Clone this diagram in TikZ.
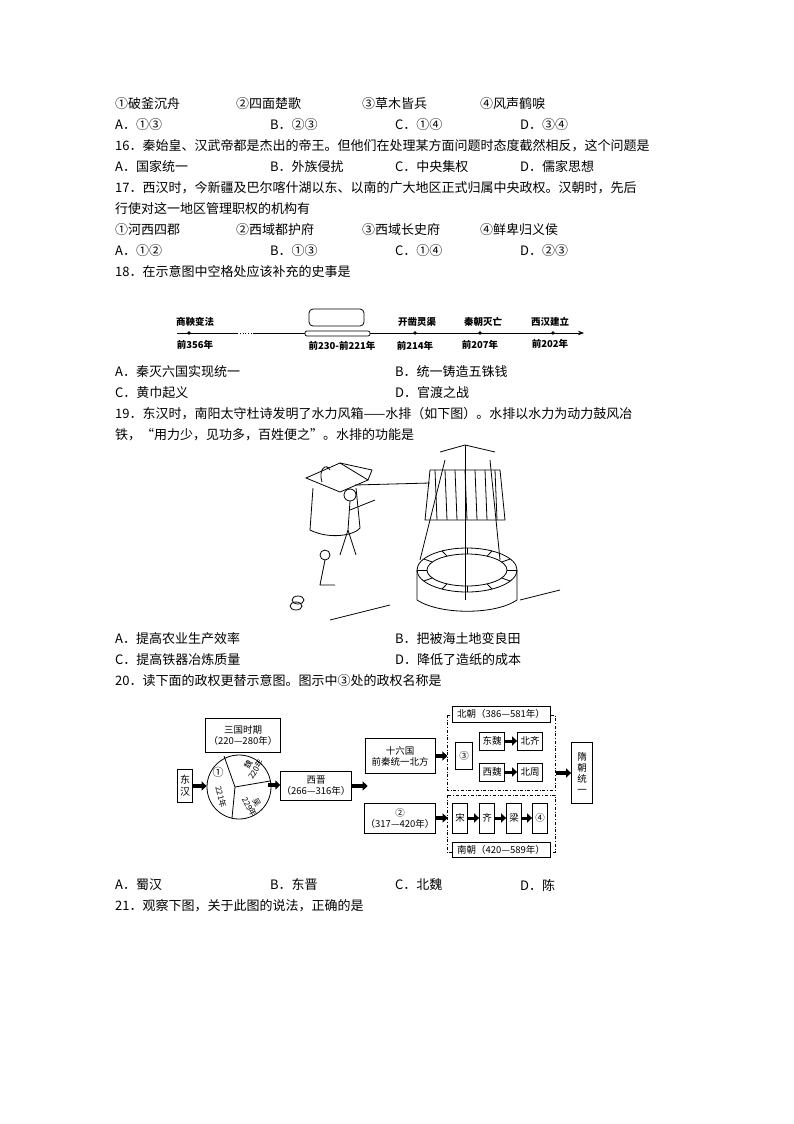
\documentclass[tikz,border=0pt]{standalone}
\usepackage{fontspec}
\setmainfont{Noto Sans CJK SC}
\usetikzlibrary{arrows.meta}
\begin{document}
\begin{tikzpicture}[x=1pt,y=-1pt,
  t/.style={anchor=west,inner sep=0pt,font=\fontsize{13}{13}\selectfont},
  s/.style={inner sep=0pt,font=\fontsize{9.5}{10}\selectfont\bfseries},
  bx/.style={draw,line width=0.8pt,inner sep=1pt,font=\fontsize{9.5}{11}\selectfont,align=center},
  cl/.style={inner sep=0pt,font=\fontsize{8}{8.5}\selectfont,align=center},
  fa/.style={-{Triangle[length=5pt,width=9pt]},line width=4pt},
  dd/.style={dash dot,line width=0.6pt}]
\useasboundingbox (0,0) rectangle (794,1124);
% Q15 options
\node[t] (a1) at (115,104) {①破釜沉舟};
\node[t] (a2) at (236,104) {②四面楚歌};
\node[t] (a3) at (362,104) {③草木皆兵};
\node[t] (a4) at (480,104) {④风声鹤唳};
\node[t] (b1) at (115,125) {A．①③};
\node[t] (b2) at (270,125) {B．②③};
\node[t] (b3) at (395,125) {C．①④};
\node[t] (b4) at (520,125) {D．③④};
\node[t] (q16) at (115,146) {16．秦始皇、汉武帝都是杰出的帝王。但他们在处理某方面问题时态度截然相反，这个问题是};
\node[t] (c1) at (115,167) {A．国家统一};
\node[t] (c2) at (270,167) {B．外族侵扰};
\node[t] (c3) at (395,167) {C．中央集权};
\node[t] (c4) at (520,167) {D．儒家思想};
\node[t] (q17) at (115,188) {17．西汉时，今新疆及巴尔喀什湖以东、以南的广大地区正式归属中央政权。汉朝时，先后};
\node[t] (q17b) at (115,209) {行使对这一地区管理职权的机构有};
\node[t] (d1) at (115,230) {①河西四郡};
\node[t] (d2) at (236,230) {②西域都护府};
\node[t] (d3) at (362,230) {③西域长史府};
\node[t] (d4) at (480,230) {④鲜卑归义侯};
\node[t] (e1) at (115,251) {A．①②};
\node[t] (e2) at (270,251) {B．①③};
\node[t] (e3) at (395,251) {C．①④};
\node[t] (e4) at (520,251) {D．②③};
\node[t] (q18) at (115,272) {18．在示意图中空格处应该补充的史事是};
% timeline
\coordinate (tl0) at (177,333); \coordinate (tl1) at (237,333);
\coordinate (tl2) at (253,333); \coordinate (tl3) at (584,333);
\draw[line width=0.8pt] (tl0) -- (tl1);
\draw[line width=0.8pt,dotted] (tl1) -- (tl2);
\draw[line width=0.8pt,-{Stealth[length=6pt]}] (tl2) -- (tl3);
\draw[line width=0.7pt,fill=white,rounded corners=2pt] (305,331) rectangle (370,336);
\draw[line width=0.8pt,rounded corners=4pt] (309,309) rectangle (364,326);
\foreach \x in {189,415,480,553} \fill (\x,333) circle (1.8pt);
\node[s] (l1) at (195,322) {商鞅变法};
\node[s] (l2) at (417,322) {开凿灵渠};
\node[s] (l3) at (483,322) {秦朝灭亡};
\node[s] (l4) at (550,322) {西汉建立};
\node[s] (m1) at (195,345) {前356年};
\node[s] (m2) at (342,346) {前230-前221年};
\node[s] (m3) at (415,346) {前214年};
\node[s] (m4) at (480,345) {前207年};
\node[s] (m5) at (550,344) {前202年};
\node[t] (f1) at (115,372) {A．秦灭六国实现统一};
\node[t] (f2) at (395,372) {B．统一铸造五铢钱};
\node[t] (f3) at (115,393) {C．黄巾起义};
\node[t] (f4) at (395,393) {D．官渡之战};
\node[t] (q19) at (115,414) {19．东汉时，南阳太守杜诗发明了水力风箱——水排（如下图）。水排以水力为动力鼓风冶};
\node[t] (q19b) at (115,435) {铁，“用力少，见功多，百姓便之”。水排的功能是};
% water-powered bellows sketch
\begin{scope}[line width=0.8pt]
\draw (313,488) -- (310,530) .. controls (330,540) and (355,535) .. (360,528) -- (356,488);
\draw (306,478) -- (340,463) -- (368,480) -- (340,492) -- cycle;
\draw (340,463) -- (372,470) -- (368,480);
\draw (322,482) .. controls (318,470) and (326,462) .. (330,470);
\draw (355,485) -- (430,483);
\draw (430,470) -- (500,470) -- (505,520) -- (425,520) -- cycle;
\foreach \x in {435,445,...,495} \draw (\x,470) -- (\x+2,520);
\draw (440,452) -- (465,445) -- (495,452);
\draw (465,445) -- (465,600);
\draw (445,460) -- (420,560); \draw (490,460) -- (500,560);
\draw (467,570) ellipse (50 and 22);
\draw (467,570) ellipse (40 and 16);
\foreach \a in {0,30,...,330} \draw (467+40*cos \a,570+16*sin \a) -- (467+50*cos \a,570+22*sin \a);
\draw (417,570) -- (417,600) .. controls (440,615) and (495,615) .. (517,600) -- (517,570);
\draw (330,620) -- (390,605); \draw (520,600) -- (560,590);
\draw (350,495) circle (6); \draw (350,501) -- (348,530) -- (340,555); \draw (348,530) -- (356,555);
\draw (350,510) -- (375,500);
\draw (325,555) circle (5); \draw (325,560) -- (320,585) -- (335,585);
\draw (298,600) ellipse (6 and 4); \draw (296,606) ellipse (6 and 4);
\end{scope}
\node[t] (g1) at (115,639) {A．提高农业生产效率};
\node[t] (g2) at (395,639) {B．把被海土地变良田};
\node[t] (g3) at (115,660) {C．提高铁器冶炼质量};
\node[t] (g4) at (395,660) {D．降低了造纸的成本};
\node[t] (q20) at (115,681) {20．读下面的政权更替示意图。图示中③处的政权名称是};
% regime diagram
\draw[dd] (447,715) rectangle (555,790);
\draw[dd] (447,795) rectangle (555,852);
\node[bx,fill=white,minimum width=98pt,minimum height=16pt] (bc) at (501,714) {北朝（386—581年）};
\node[bx,fill=white,minimum width=98pt,minimum height=15pt] (nc) at (501,850) {南朝（420—589年）};
\node[bx,minimum width=15pt,minimum height=33pt,font=\fontsize{10}{12}\selectfont] (dh) at (185,786) {东\\汉};
\node[bx,minimum width=75pt,minimum height=34pt] (sg) at (243,735) {三国时期\\（220—280年）};
\node[draw,circle,line width=0.8pt,minimum size=64pt,inner sep=0pt] (ci) at (239,787) {};
\coordinate (cc) at (235,787);
\draw[line width=0.8pt] (cc) -- (224,756) (cc) -- (270,781) (cc) -- (232,818);
\node[inner sep=0pt,font=\fontsize{11}{11}\selectfont] (c1n) at (218,772) {①};
\node[cl,rotate=-75] (c2n) at (221,797) {221年};
\node[cl,rotate=60] (c3n) at (252,767) {魏\\220年};
\node[cl,rotate=-60] (c4n) at (253,805) {吴\\229年};
\node[bx,minimum width=68pt,minimum height=29pt] (xj) at (316,786) {西晋\\（266—316年）};
\node[bx,minimum width=70pt,minimum height=35pt] (sl) at (400,756) {十六国\\前秦统一北方};
\node[bx,minimum width=70pt,minimum height=30pt] (dj) at (400,818) {②\\（317—420年）};
\node[bx,minimum width=17pt,minimum height=27pt] (n3) at (464,756) {③};
\node[bx,minimum width=25pt,minimum height=18pt] (dw) at (492,741) {东魏};
\node[bx,minimum width=25pt,minimum height=18pt] (bq) at (530,741) {北齐};
\node[bx,minimum width=25pt,minimum height=18pt] (xw) at (492,772) {西魏};
\node[bx,minimum width=25pt,minimum height=18pt] (bz) at (530,772) {北周};
\node[bx,minimum width=15pt,minimum height=30pt] (song) at (460,818) {宋};
\node[bx,minimum width=15pt,minimum height=30pt] (qi) at (487,818) {齐};
\node[bx,minimum width=15pt,minimum height=30pt] (liang) at (514,818) {梁};
\node[bx,minimum width=15pt,minimum height=30pt] (n4) at (540,818) {④};
\node[bx,minimum width=21pt,minimum height=61pt] (sui) at (582,773) {隋\\朝\\统\\一};
\draw[fa] (dh.east) -- (ci.west|-dh.east);
\draw[fa] (ci.east) ++(-3,-2) coordinate (cia) -- (xj.west|-cia);
\draw[fa] (xj.east) -- ++(16,0) coordinate (xja);
\draw[fa] (sl.east) -- ++(12,0) coordinate (sla);
\draw[fa] (dj.east) -- ++(12,0) coordinate (dja);
\draw[fa,line width=3pt] (dw) -- (bq);
\draw[fa,line width=3pt] (xw) -- (bz);
\draw[fa,line width=3pt] (song) -- (qi);
\draw[fa,line width=3pt] (qi) -- (liang);
\draw[fa,line width=3pt] (liang) -- (n4);
\draw[fa] (556,773) -- (sui.west);
\node[t] (h1) at (115,885) {A．蜀汉};
\node[t] (h2) at (270,885) {B．东晋};
\node[t] (h3) at (395,885) {C．北魏};
\node[t] (h4) at (520,885) {D．陈};
\node[t] (q21) at (115,906) {21．观察下图，关于此图的说法，正确的是};
\end{tikzpicture}
\end{document}
